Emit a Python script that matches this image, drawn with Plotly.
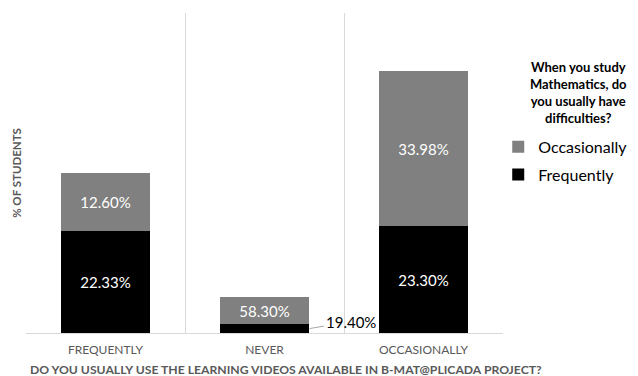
import plotly.graph_objects as go

categories = ["FREQUENTLY", "NEVER", "OCCASIONALLY"]
frequently_vals = [22.33, 1.94, 23.30]
occasionally_vals = [12.60, 5.83, 33.98]
frequently_labels = ["22.33%", "19.40%", "23.30%"]
occasionally_labels = ["12.60%", "58.30%", "33.98%"]
outside_idx = 1  # label drawn outside with a leader line
legend_title = "When you study<br>Mathematics, do<br>you usually have<br>difficulties?"
x_title = "DO YOU USUALLY USE THE LEARNING VIDEOS AVAILABLE IN B-MAT@PLICADA PROJECT?"
y_title = "% OF STUDENTS"

FONT = "Lato, 'Open Sans', sans-serif"
AX_GRAY = "#595959"

inside_freq = [t if i != outside_idx else "" for i, t in enumerate(frequently_labels)]

fig = go.Figure()
fig.add_trace(go.Bar(
    x=categories, y=frequently_vals, name="Frequently", legendrank=2, legendgroup="f",
    marker=dict(color="#000000", line=dict(width=0)),
    text=inside_freq, textposition="inside", insidetextanchor="middle",
    textfont=dict(color="white", size=15, family=FONT),
    hoverinfo="skip",
))
fig.add_trace(go.Bar(
    x=categories, y=occasionally_vals, name="Occasionally", legendrank=1, legendgroup="o",
    marker=dict(color="#808080", line=dict(width=0)),
    text=occasionally_labels, textposition="inside", insidetextanchor="middle",
    textfont=dict(color="white", size=15, family=FONT),
    hoverinfo="skip",
))

fig.add_annotation(
    x=categories[outside_idx], y=frequently_vals[outside_idx] / 2,
    xref="x", yref="y", xshift=45,
    text=frequently_labels[outside_idx], showarrow=True, arrowhead=0,
    arrowwidth=1, arrowcolor="#a6a6a6", ax=41, ay=-7,
    font=dict(size=15, color="#000000", family=FONT),
)

fig.add_annotation(
    x=0.546, y=-0.1125, xref="paper", yref="paper",
    text="<b>" + x_title + "</b>",
    showarrow=False, xanchor="center", yanchor="middle",
    font=dict(size=12.2, color=AX_GRAY, family=FONT),
)

fig.add_annotation(
    x=1.158, y=0.862, xref="paper", yref="paper",
    text="<b>" + legend_title + "</b>", align="center",
    showarrow=False, xanchor="center", yanchor="top",
    font=dict(size=13, color="#000000", family=FONT),
)

fig.update_layout(
    width=630, height=368,
    margin=dict(l=18, r=125, t=5, b=43),
    barmode="stack", bargap=0.445,
    paper_bgcolor="white", plot_bgcolor="white",
    font=dict(family=FONT, color=AX_GRAY),
    xaxis=dict(
        range=[-0.5, 2.5], tickson="boundaries", showgrid=True,
        gridcolor="#d9d9d9", gridwidth=1, ticks="", showline=True,
        linecolor="#d9d9d9", tickfont=dict(size=12, color=AX_GRAY, family=FONT),
        zeroline=False, ticklabelstandoff=6, automargin=False,
    ),
    yaxis=dict(
        range=[0, 70], showticklabels=False, showgrid=False, zeroline=False,
        automargin=False,
        title=dict(text="<b>" + y_title + "</b>", standoff=0,
                   font=dict(size=11.5, color=AX_GRAY, family=FONT)),
    ),
    legend=dict(
        x=0.99, y=0.635, xanchor="left", yanchor="top",
        traceorder="grouped", tracegroupgap=4,
        font=dict(size=16, color="#000000", family=FONT),
        bgcolor="rgba(0,0,0,0)",
    ),
    showlegend=True,
)

fig.write_html("out.html")
